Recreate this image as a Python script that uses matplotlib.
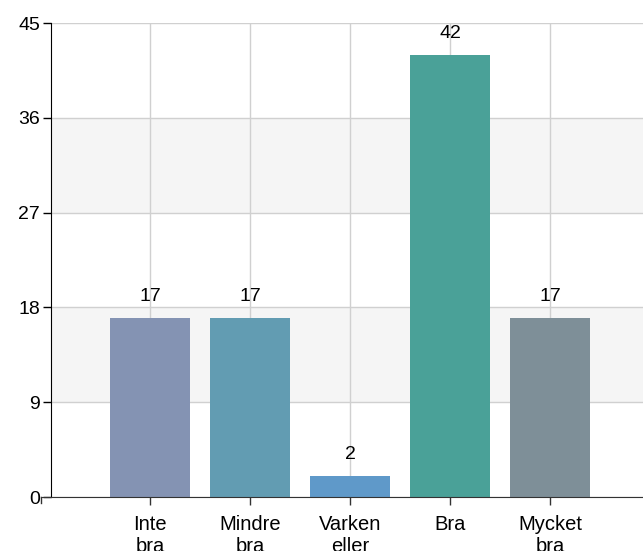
import matplotlib
matplotlib.use("Agg")
import matplotlib.pyplot as plt
from matplotlib.lines import Line2D

categories = ["Inte\nbra", "Mindre\nbra", "Varken\neller", "Bra", "Mycket\nbra"]
values = [17, 17, 2, 42, 17]
colors = ["#8493B3", "#629CB2", "#5F99C9", "#4AA198", "#7E8F98"]
yticks = [0, 9, 18, 27, 36, 45]

plt.rcParams['font.family'] = ['Liberation Sans', 'DejaVu Sans']

fig = plt.figure(figsize=(6.43, 5.51), dpi=100)
ax = fig.add_axes([51/643, 54/551, (643-51)/643, 474/551])

x = list(range(len(categories)))
ax.set_xlim(-0.99, 4.93)
ax.set_ylim(0, 45)

# alternating bands
for i in range(len(yticks) - 1):
    if i % 2 == 1:
        ax.axhspan(yticks[i], yticks[i+1], color="#f5f5f5", zorder=0, lw=0)

ax.set_yticks(yticks)
ax.set_xticks(x)
ax.set_xticklabels(categories, fontsize=14.5, linespacing=1.2)
ax.tick_params(axis='y', labelsize=14, length=6, width=1, color='black', pad=2)
ax.tick_params(axis='x', labelsize=14.5, length=6, width=1, color='#333333', pad=7)
ax.grid(True, color="#d0d0d0", lw=1, zorder=0.5)
ax.set_axisbelow(True)

bars = ax.bar(x, values, width=0.8, color=colors, zorder=2)
for xi, v in zip(x, values):
    ax.annotate(str(v), (xi, v), xytext=(0, 9), textcoords='offset points',
                ha='center', va='bottom', fontsize=14)

for s in ['top', 'right']:
    ax.spines[s].set_visible(False)
ax.spines['left'].set_color('black')
ax.spines['bottom'].set_color('#333333')
ax.spines['bottom'].set_bounds(-1.09, 4.93)
ax.spines['bottom'].set_clip_on(False)
ax.add_line(Line2D([-1.09, -1.09], [0, -0.57], color='#333333', lw=1, clip_on=False))

fig.savefig("out.png", dpi=100)
